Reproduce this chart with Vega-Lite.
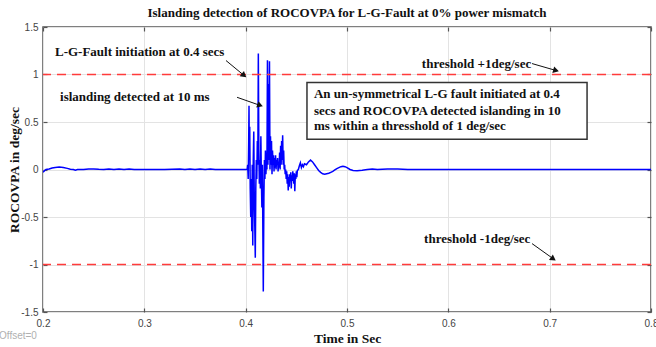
{
  "$schema": "https://vega.github.io/schema/vega-lite/v6.json",
  "width": 608,
  "height": 285,
  "autosize": "none",
  "padding": {"left": 43, "top": 27, "right": 5, "bottom": 35},
  "background": "white",
  "title": {"text": "Islanding detection of ROCOVPA for L-G-Fault at 0% power mismatch", "font": "Liberation Serif", "fontSize": 13, "fontWeight": "bold", "color": "#111", "offset": 2, "anchor": "middle"},
  "config": {
    "view": {"stroke": "#555", "strokeWidth": 1.5},
    "axis": {"domain": false, "grid": true, "gridColor": "#e3e3e3", "gridWidth": 1, "tickColor": "#555", "tickWidth": 1.2, "tickSize": -4, "labelFont": "Liberation Sans", "labelFontSize": 10, "labelColor": "#444", "titleFont": "Liberation Serif", "titleFontSize": 13.5, "titleFontWeight": "bold", "titleColor": "#111"}
  },
  "datasets": {
    "series": [
      {"t": 0.2, "v": -0.03}, {"t": 0.2015, "v": -0.012}, {"t": 0.203, "v": 0.0}, {"t": 0.206, "v": 0.005}, {"t": 0.209, "v": 0.015}, {"t": 0.212, "v": 0.022}, {"t": 0.216, "v": 0.026}, {"t": 0.22, "v": 0.022}, {"t": 0.224, "v": 0.012}, {"t": 0.227, "v": 0.002}, {"t": 0.23, "v": 0.0}, {"t": 0.232, "v": -0.008}, {"t": 0.234, "v": 0.0}, {"t": 0.24, "v": 0.0}, {"t": 0.245, "v": 0.006}, {"t": 0.25, "v": 0.006}, {"t": 0.255, "v": 0.002}, {"t": 0.26, "v": 0.0}, {"t": 0.265, "v": 0.005}, {"t": 0.27, "v": 0.0}, {"t": 0.275, "v": 0.005}, {"t": 0.28, "v": 0.0}, {"t": 0.285, "v": 0.005}, {"t": 0.29, "v": 0.0}, {"t": 0.3, "v": 0.0}, {"t": 0.32, "v": 0.0}, {"t": 0.335, "v": 0.004}, {"t": 0.34, "v": 0.0}, {"t": 0.345, "v": 0.004}, {"t": 0.35, "v": 0.0}, {"t": 0.355, "v": 0.004}, {"t": 0.36, "v": 0.0}, {"t": 0.365, "v": 0.004}, {"t": 0.37, "v": 0.0}, {"t": 0.38, "v": 0.0}, {"t": 0.4, "v": 0.0}, {"t": 0.4015, "v": 0.0},
      {"t": 0.402, "v": 0.05}, {"t": 0.4025, "v": -0.1}, {"t": 0.403, "v": 0.3}, {"t": 0.4033, "v": 0.67}, {"t": 0.4036, "v": 0.1}, {"t": 0.404, "v": 0.45}, {"t": 0.4045, "v": -0.2}, {"t": 0.405, "v": -0.5}, {"t": 0.4055, "v": -0.1}, {"t": 0.406, "v": -0.65}, {"t": 0.4065, "v": 0.05}, {"t": 0.407, "v": -0.8}, {"t": 0.4075, "v": 0.1}, {"t": 0.408, "v": 0.4}, {"t": 0.4085, "v": -0.3}, {"t": 0.409, "v": -0.6}, {"t": 0.4095, "v": -0.93}, {"t": 0.41, "v": -0.2}, {"t": 0.4105, "v": 0.1}, {"t": 0.411, "v": -0.1}, {"t": 0.4115, "v": 0.3}, {"t": 0.412, "v": 0.05}, {"t": 0.4125, "v": 1.22}, {"t": 0.413, "v": 0.2}, {"t": 0.4135, "v": -0.15}, {"t": 0.414, "v": 0.1}, {"t": 0.4145, "v": -0.2}, {"t": 0.415, "v": 0.35}, {"t": 0.4155, "v": -0.1}, {"t": 0.416, "v": -0.4}, {"t": 0.4165, "v": 0.05}, {"t": 0.417, "v": -0.7}, {"t": 0.4174, "v": -1.285}, {"t": 0.418, "v": -0.3}, {"t": 0.4185, "v": 0.1}, {"t": 0.419, "v": -0.1}, {"t": 0.4195, "v": 0.2}, {"t": 0.42, "v": -0.05}, {"t": 0.4205, "v": 0.1}, {"t": 0.421, "v": 0.0}, {"t": 0.4215, "v": 1.15}, {"t": 0.422, "v": 0.05}, {"t": 0.4225, "v": 0.9}, {"t": 0.423, "v": 0.1}, {"t": 0.4235, "v": 1.14}, {"t": 0.424, "v": 0.0}, {"t": 0.4245, "v": 0.35}, {"t": 0.425, "v": 0.05}, {"t": 0.4255, "v": 0.3}, {"t": 0.426, "v": -0.05}, {"t": 0.4265, "v": 0.2}, {"t": 0.427, "v": 0.05}, {"t": 0.4275, "v": 0.15}, {"t": 0.428, "v": -0.02}, {"t": 0.4285, "v": 0.12}, {"t": 0.429, "v": 0.02}, {"t": 0.4295, "v": 0.15}, {"t": 0.43, "v": 0.0}, {"t": 0.4305, "v": 0.1}, {"t": 0.431, "v": 0.05}, {"t": 0.4315, "v": 0.12}, {"t": 0.432, "v": -0.02}, {"t": 0.4325, "v": 0.08}, {"t": 0.433, "v": 0.02}, {"t": 0.4335, "v": 0.18}, {"t": 0.434, "v": 0.0}, {"t": 0.4345, "v": 0.25}, {"t": 0.435, "v": 0.05}, {"t": 0.4355, "v": 0.3}, {"t": 0.436, "v": 0.1}, {"t": 0.4365, "v": 0.36}, {"t": 0.437, "v": 0.05}, {"t": 0.4375, "v": 0.2}, {"t": 0.438, "v": 0.0}, {"t": 0.4385, "v": 0.05}, {"t": 0.439, "v": -0.05}, {"t": 0.4395, "v": 0.0}, {"t": 0.44, "v": -0.1}, {"t": 0.4405, "v": -0.02}, {"t": 0.441, "v": -0.15}, {"t": 0.4415, "v": -0.05}, {"t": 0.442, "v": -0.22}, {"t": 0.4425, "v": -0.08}, {"t": 0.443, "v": -0.18}, {"t": 0.4435, "v": -0.05}, {"t": 0.444, "v": -0.12}, {"t": 0.4445, "v": -0.03}, {"t": 0.445, "v": -0.2}, {"t": 0.4455, "v": -0.06}, {"t": 0.446, "v": -0.12}, {"t": 0.4465, "v": -0.02}, {"t": 0.447, "v": -0.08}, {"t": 0.4475, "v": -0.15}, {"t": 0.448, "v": -0.04}, {"t": 0.4485, "v": -0.23}, {"t": 0.449, "v": -0.05}, {"t": 0.4495, "v": -0.1}, {"t": 0.45, "v": -0.02}, {"t": 0.4505, "v": -0.08}, {"t": 0.451, "v": -0.01}, {"t": 0.452, "v": 0.0}, {"t": 0.453, "v": 0.04}, {"t": 0.454, "v": 0.07}, {"t": 0.455, "v": 0.02}, {"t": 0.456, "v": 0.05}, {"t": 0.457, "v": 0.03}, {"t": 0.458, "v": 0.06}, {"t": 0.46, "v": 0.05}, {"t": 0.462, "v": 0.08}, {"t": 0.464, "v": 0.1}, {"t": 0.466, "v": 0.08}, {"t": 0.468, "v": 0.05}, {"t": 0.47, "v": 0.02}, {"t": 0.472, "v": -0.01}, {"t": 0.474, "v": -0.03}, {"t": 0.476, "v": -0.045}, {"t": 0.478, "v": -0.05}, {"t": 0.48, "v": -0.045}, {"t": 0.482, "v": -0.04}, {"t": 0.484, "v": -0.03}, {"t": 0.486, "v": -0.02}, {"t": 0.488, "v": -0.005}, {"t": 0.49, "v": 0.01}, {"t": 0.492, "v": 0.02}, {"t": 0.494, "v": 0.03}, {"t": 0.496, "v": 0.035}, {"t": 0.498, "v": 0.03}, {"t": 0.5, "v": 0.02}, {"t": 0.503, "v": 0.0}, {"t": 0.506, "v": -0.01}, {"t": 0.51, "v": -0.012}, {"t": 0.515, "v": -0.008}, {"t": 0.52, "v": 0.0}, {"t": 0.525, "v": 0.005}, {"t": 0.53, "v": 0.0}, {"t": 0.54, "v": 0.005}, {"t": 0.55, "v": 0.005}, {"t": 0.56, "v": 0.0}, {"t": 0.6, "v": 0.0}, {"t": 0.7, "v": 0.0}, {"t": 0.8, "v": 0.0}
    ],
    "thresholds": [{"v": 1}, {"v": -1}],
    "labels": [
      {"t": 0.2118, "v": 1.233, "text": "L-G-Fault initiation at 0.4 secs"},
      {"t": 0.2168, "v": 0.76, "text": "islanding detected at 10 ms"},
      {"t": 0.4674, "v": 0.79, "text": "An un-symmetrical L-G fault initiated at 0.4"},
      {"t": 0.4674, "v": 0.615, "text": "secs and ROCOVPA detected islanding in 10"},
      {"t": 0.4674, "v": 0.456, "text": "ms within a thresshold of 1 deg/sec"}
    ],
    "centered": [
      {"t": 0.6278, "v": 1.112, "text": "threshold +1deg/sec"},
      {"t": 0.6285, "v": -0.728, "text": "threshold -1deg/sec"}
    ],
    "arrows": [
      {"id": "a1", "t": 0.3806, "v": 1.147, "t2": 0.3984, "v2": 0.99},
      {"id": "a2", "t": 0.3915, "v": 0.76, "t2": 0.4142, "v2": 0.675},
      {"id": "a3", "t": 0.6826, "v": 1.115, "t2": 0.7063, "v2": 1.042},
      {"id": "a4", "t": 0.6826, "v": -0.78, "t2": 0.7036, "v2": -0.94}
    ],
    "box": [{"t": 0.4605, "t2": 0.7369, "v": 0.916, "v2": 0.319}],
    "note": [{"t": 0.1753, "v": -1.754, "text": "Offset=0"}]
  },
  "layer": [
    {
      "data": {"name": "series"},
      "mark": {"type": "line", "color": "#0000ff", "strokeWidth": 1.5, "clip": true},
      "encoding": {
        "x": {"field": "t", "type": "quantitative", "scale": {"domain": [0.2, 0.8], "nice": false, "zero": false},
              "axis": {"values": [0.2, 0.3, 0.4, 0.5, 0.6, 0.7, 0.8], "labelExpr": "'' + datum.value", "title": "Time in Sec", "labelPadding": 10, "titlePadding": 3, "labelFlush": false}},
        "y": {"field": "v", "type": "quantitative", "scale": {"domain": [-1.5, 1.5], "nice": false, "zero": false},
              "axis": {"values": [-1.5, -1, -0.5, 0, 0.5, 1, 1.5], "labelExpr": "'' + datum.value", "title": "ROCOVPA in deg/sec", "labelPadding": 9, "titlePadding": 0, "titleX": -22}}
      }
    },
    {
      "data": {"name": "thresholds"},
      "mark": {"type": "rule", "color": "#ff3b3b", "strokeWidth": 1.5, "strokeDash": [9, 6]},
      "encoding": {"y": {"field": "v", "type": "quantitative", "axis": null}}
    },
    {
      "data": {"name": "box"},
      "mark": {"type": "rect", "fill": "white", "stroke": "#333", "strokeWidth": 1.5},
      "encoding": {
        "x": {"field": "t", "type": "quantitative", "axis": {"orient": "top", "labels": false, "title": null, "grid": false, "values": [0.2, 0.3, 0.4, 0.5, 0.6, 0.7, 0.8]}},
        "x2": {"field": "t2"},
        "y": {"field": "v", "type": "quantitative", "axis": {"orient": "right", "labels": false, "title": null, "grid": false, "values": [-1.5, -1, -0.5, 0, 0.5, 1, 1.5]}},
        "y2": {"field": "v2"}
      }
    },
    {
      "data": {"name": "labels"},
      "mark": {"type": "text", "font": "Liberation Serif", "fontWeight": "bold", "fontSize": 13, "color": "#111", "align": "left", "baseline": "middle"},
      "encoding": {"x": {"field": "t", "type": "quantitative", "axis": null}, "y": {"field": "v", "type": "quantitative", "axis": null}, "text": {"field": "text"}}
    },
    {
      "data": {"name": "centered"},
      "mark": {"type": "text", "font": "Liberation Serif", "fontWeight": "bold", "fontSize": 13, "color": "#111", "align": "center", "baseline": "middle"},
      "encoding": {"x": {"field": "t", "type": "quantitative", "axis": null}, "y": {"field": "v", "type": "quantitative", "axis": null}, "text": {"field": "text"}}
    },
    {
      "data": {"name": "arrows"},
      "mark": {"type": "rule", "color": "#111", "strokeWidth": 1},
      "encoding": {"x": {"field": "t", "type": "quantitative", "axis": null}, "y": {"field": "v", "type": "quantitative", "axis": null}, "x2": {"field": "t2"}, "y2": {"field": "v2"}}
    },
    {
      "data": {"name": "arrows"},
      "transform": [{"filter": "datum.id == 'a1'"}],
      "mark": {"type": "point", "shape": "triangle-up", "filled": true, "color": "#111", "size": 45, "angle": 130, "opacity": 1},
      "encoding": {"x": {"field": "t2", "type": "quantitative", "axis": null}, "y": {"field": "v2", "type": "quantitative", "axis": null}}
    },
    {
      "data": {"name": "arrows"},
      "transform": [{"filter": "datum.id == 'a2'"}],
      "mark": {"type": "point", "shape": "triangle-up", "filled": true, "color": "#111", "size": 45, "angle": 110, "opacity": 1},
      "encoding": {"x": {"field": "t2", "type": "quantitative", "axis": null}, "y": {"field": "v2", "type": "quantitative", "axis": null}}
    },
    {
      "data": {"name": "arrows"},
      "transform": [{"filter": "datum.id == 'a3'"}],
      "mark": {"type": "point", "shape": "triangle-up", "filled": true, "color": "#111", "size": 45, "angle": 106, "opacity": 1},
      "encoding": {"x": {"field": "t2", "type": "quantitative", "axis": null}, "y": {"field": "v2", "type": "quantitative", "axis": null}}
    },
    {
      "data": {"name": "arrows"},
      "transform": [{"filter": "datum.id == 'a4'"}],
      "mark": {"type": "point", "shape": "triangle-up", "filled": true, "color": "#111", "size": 45, "angle": 125, "opacity": 1},
      "encoding": {"x": {"field": "t2", "type": "quantitative", "axis": null}, "y": {"field": "v2", "type": "quantitative", "axis": null}}
    },
    {
      "data": {"name": "note"},
      "mark": {"type": "text", "font": "Liberation Sans", "fontSize": 10, "color": "#b0b0b0", "align": "center", "baseline": "middle"},
      "encoding": {"x": {"field": "t", "type": "quantitative", "axis": null}, "y": {"field": "v", "type": "quantitative", "axis": null}, "text": {"field": "text"}}
    }
  ],
  "resolve": {"axis": {"x": "independent", "y": "independent"}}
}
